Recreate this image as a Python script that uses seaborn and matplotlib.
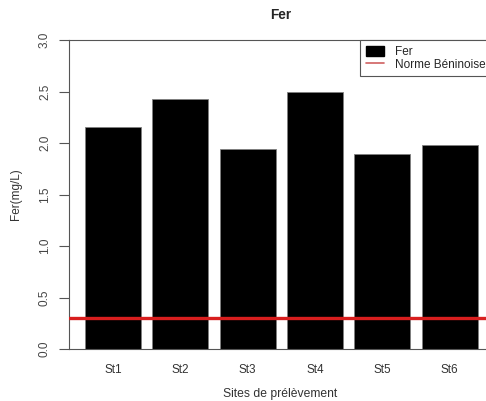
import numpy as np
import pandas as pd
import matplotlib
matplotlib.use("Agg")
import matplotlib.pyplot as plt
import seaborn as sns
from matplotlib.patches import Patch
from matplotlib.lines import Line2D

sites = ["St1", "St2", "St3", "St4", "St5", "St6"]
fer = [2.16, 2.43, 1.94, 2.50, 1.89, 1.98]
norme = 0.3
y_ticks = [0.0, 0.5, 1.0, 1.5, 2.0, 2.5, 3.0]

df = pd.DataFrame({"Site": sites, "Fer": fer})

sns.set_style("white")
plt.rcParams["font.family"] = ["Liberation Sans", "DejaVu Sans"]

W, H = 486, 401
fig = plt.figure(figsize=(W / 100, H / 100), dpi=100)
# plot region runs a bit past the right edge, like the cropped original
ax = fig.add_axes([69 / W, (H - 349) / H, (492 - 69) / W, (349 - 40) / H])

sns.barplot(data=df, x="Site", y="Fer", color="black", saturation=1,
            width=0.833, edgecolor="#808080", linewidth=0.6, ax=ax)
ax.axhline(norme, color="#d81e1e", linewidth=2.4, zorder=5)

ax.set_xlim(-0.655, 5.63)
ax.set_ylim(0, 3)
ax.set_yticks(y_ticks)
ax.set_yticklabels([f"{v:.1f}" for v in y_ticks], rotation=90, va="center",
                   fontsize=8.5, color="#444444")
ax.tick_params(axis="y", left=True, length=7, width=0.8, color="#555555", pad=6)
ax.tick_params(axis="x", bottom=False, labelsize=8.5, labelcolor="#333333", pad=7)

for side in ["left", "top", "bottom"]:
    ax.spines[side].set_color("#555555")
    ax.spines[side].set_linewidth(0.8)
ax.spines["right"].set_visible(False)

ax.set_title("Fer", fontsize=9.8, fontweight="bold", pad=15)
ax.set_xlabel("Sites de prélèvement", fontsize=8.7, color="#333333", labelpad=9)
ax.set_ylabel("Fer(mg/L)", fontsize=8.5, color="#333333", labelpad=12)

handles = [Patch(facecolor="black", edgecolor="black"),
           Line2D([0], [0], color="#d06060", linewidth=1.2)]
leg = ax.legend(handles, ["Fer", "Norme Béninoise"], loc="upper right",
                bbox_to_anchor=(1.0, 1.0), borderaxespad=0, fontsize=8.5,
                frameon=True, fancybox=False, framealpha=1,
                handlelength=1.5, handleheight=1.0, labelspacing=0.0,
                handletextpad=1.0, borderpad=0.5)
leg.get_frame().set_edgecolor("#555555")
leg.get_frame().set_linewidth(0.8)

fig.savefig("out.png", dpi=100)
